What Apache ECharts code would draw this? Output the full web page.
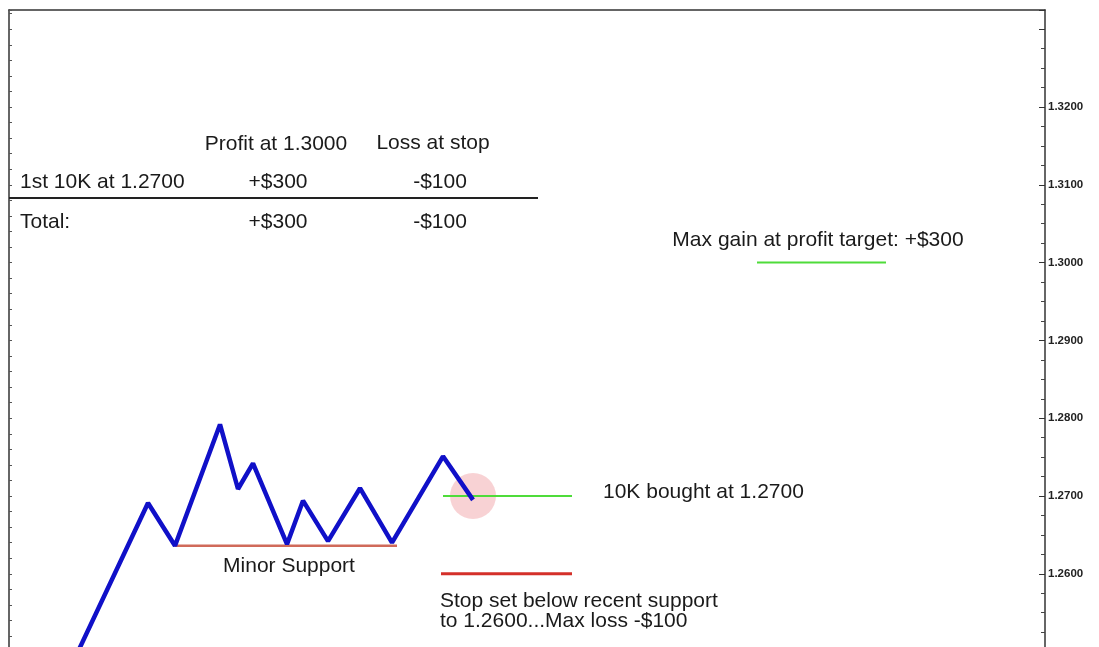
<!DOCTYPE html>
<html><head><meta charset="utf-8">
<script src="https://cdn.jsdelivr.net/npm/echarts@6/dist/echarts.min.js"></script>
<style>html,body{margin:0;padding:0;background:#fff}#c{width:1099px;height:647px}</style>
</head><body><div id="c"></div>
<script>
// price path (x = bar position, y = price)
const priceX = [69, 139, 166, 211, 229, 244, 278, 294, 319, 351, 383, 434, 464];
const priceY = [1.2500, 1.2691, 1.2636, 1.2792, 1.2709, 1.2742, 1.2638, 1.2694, 1.2642, 1.2710, 1.2640, 1.2751, 1.2695];
// levels
const supportLevel = 1.2636, supportX = [166, 388];
const entryLevel = 1.2700, entryX = [434, 563];
const stopLevel = 1.2600, stopX = [432, 563];
const targetLevel = 1.3000, targetX = [748, 877];
const entryPointX = 464;
// axis
const yMin = 1.25, yMax = 1.33247, yInterval = 0.01;
const tickLabels = ['1.2600','1.2700','1.2800','1.2900','1.3000','1.3100','1.3200'];
// table text
const tableHeader = ['Profit at 1.3000', 'Loss at stop'];
const tableRow1 = ['1st 10K at 1.2700', '+$300', '-$100'];
const tableTotal = ['Total:', '+$300', '-$100'];
// annotations
const notes = {
  target: 'Max gain at profit target: +$300',
  entry: '10K bought at 1.2700',
  support: 'Minor Support',
  stop1: 'Stop set below recent support',
  stop2: 'to 1.2600...Max loss -$100'
};

const zip = (xs, ys) => xs.map((x, i) => [x, ys[i]]);
const lvl = (xs, v) => xs.map(x => [x, v]);
const font = '"Liberation Sans", Arial, sans-serif';
const txt = (x, y, s, align) => ({type:'text', x: x, y: y, z:50, silent:true,
  style:{text:s, fill:'#1a1a1a', font:'21px ' + font, textAlign: align||'left', textVerticalAlign:'middle'}});

const chart = echarts.init(document.getElementById('c'));
const lineS = (data, color, w, z) => ({type:'line', data, symbol:'none', lineStyle:{color, width:w}, z, silent:true, animation:false});
chart.setOption({
  animation:false,
  grid:{left:9, right:54, top:10, height:641.6, outerBoundsMode:'none', containLabel:false},
  xAxis:[
    {type:'value', min:0, max:1036, show:true, position:'top', axisLine:{show:true, onZero:false, lineStyle:{color:'#333', width:1.5}}, axisTick:{show:false}, axisLabel:{show:false}, splitLine:{show:false}},
  ],
  yAxis:[
    {type:'value', position:'right', min:yMin, max:yMax, interval:yInterval,
      axisLine:{show:true, onZero:false, lineStyle:{color:'#333', width:1.5}},
      axisTick:{show:true, inside:true, length:6, lineStyle:{color:'#333'}},
      minorTick:{show:true, splitNumber:4, length:4, lineStyle:{color:'#444'}},
      axisLabel:{show:true, margin:3, color:'#222', fontSize:11.5, fontWeight:'bold', fontFamily:font,
        formatter:(v)=>{const s=v.toFixed(4); return tickLabels.includes(s) ? s : '';}},
      splitLine:{show:false}},
    {type:'value', position:'left', min:yMin, max:yMax, interval:yInterval,
      axisLine:{show:true, onZero:false, lineStyle:{color:'#333', width:1.5}},
      axisTick:{show:true, inside:true, length:3, lineStyle:{color:'#555'}},
      minorTick:{show:true, splitNumber:5, length:3, lineStyle:{color:'#555'}},
      axisLabel:{show:false}, splitLine:{show:false}}
  ],
  series:[
    {type:'scatter', data:[[entryPointX, entryLevel]], symbolSize:46, itemStyle:{color:'rgba(240,160,165,0.6)'}, z:1, silent:true},
    lineS(lvl(entryX, entryLevel), '#4fdc3a', 2, 2),
    lineS(lvl(targetX, targetLevel), '#4fdc3a', 2, 2),
    lineS(lvl(stopX, stopLevel), '#d4302a', 3, 2),
    lineS(lvl(supportX, supportLevel), '#d06a5a', 2.5, 2),
    lineS(zip(priceX, priceY), '#1010c8', 4.5, 5)
  ],
  graphic:[
    txt(276, 144, tableHeader[0], 'center'),
    txt(433, 143, tableHeader[1], 'center'),
    txt(20, 182, tableRow1[0]),
    txt(278, 182, tableRow1[1], 'center'),
    txt(440, 182, tableRow1[2], 'center'),
    {type:'line', shape:{x1:9, y1:198, x2:538, y2:198}, style:{stroke:'#222', lineWidth:2}, z:50, silent:true},
    txt(20, 222, tableTotal[0]),
    txt(278, 222, tableTotal[1], 'center'),
    txt(440, 222, tableTotal[2], 'center'),
    txt(818, 240, notes.target, 'center'),
    txt(603, 492, notes.entry),
    txt(289, 566, notes.support, 'center'),
    txt(440, 601, notes.stop1),
    txt(440, 621, notes.stop2)
  ]
});
</script></body></html>
